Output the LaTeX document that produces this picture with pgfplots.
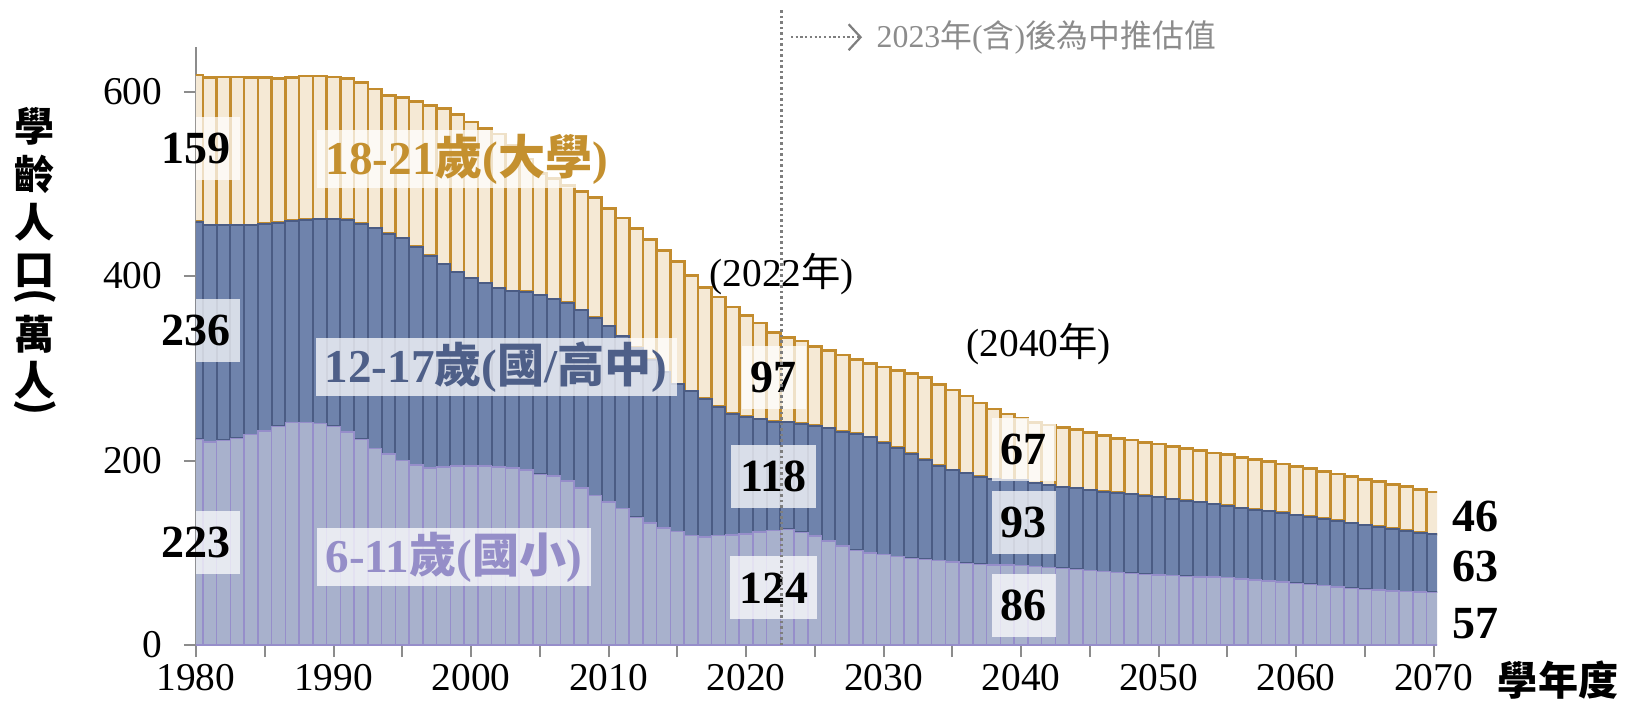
\documentclass[border=0pt]{standalone}
\usepackage{fontspec}
\setmainfont{Liberation Serif}
\newfontfamily\cjk{Noto Sans CJK TC}
\usepackage{pgfplots}
\pgfplotsset{compat=1.18}
\usepackage{pgfplotstable}
\usetikzlibrary{arrows.meta}
\definecolor{lavfill}{HTML}{A8B1CC}
\definecolor{lavline}{HTML}{968ECA}
\definecolor{bluefill}{HTML}{6F83AC}
\definecolor{blueline}{HTML}{4B5C84}
\definecolor{tanfill}{HTML}{F5E9D5}
\definecolor{tanline}{HTML}{C38C2E}
\definecolor{axgray}{HTML}{8C8C8C}
\definecolor{dotgray}{HTML}{7E7E7E}
\definecolor{lavtext}{HTML}{958EC8}
\definecolor{bluetext}{HTML}{4E5F88}
\definecolor{tantext}{HTML}{C4902F}
\newcommand\lab{\fontsize{13.1pt}{15pt}\selectfont\bfseries}
\newcommand\slab{\fontsize{13.4pt}{15pt}\selectfont\bfseries}
\newcommand\tlab{\fontsize{11.2pt}{13pt}\selectfont}
\newcommand\ylabf{\cjk\bfseries\fontsize{11.4pt}{13pt}\selectfont}

\pgfplotstableread{
year a b c
1980 223 236 159
1981 220 235 160
1982 222 233 161
1983 224 231 161
1984 228 227 160
1985 232 225 158
1986 237 221 156
1987 241 219 155
1988 241 220 156
1989 240 222 155
1990 237 225 154
1991 231 230 153
1992 223 234 153
1993 213 239 151
1994 207 239 150
1995 200 241 153
1996 195 237 157
1997 192 230 163
1998 193 220 169
1999 194 210 171
2000 194 204 169
2001 194 198 168
2002 193 194 167
2003 192 192 158
2004 190 193 144
2005 185 194 132
2006 183 192 131
2007 178 193 127
2008 170 193 129
2009 162 193 130
2010 155 191 127
2011 148 187 128
2012 138.5 184 129
2013 132.5 177 130
2014 127 169 132
2015 123 160 132.5
2016 118.5 157 125
2017 117 150 121
2018 118.5 140 119
2019 119.5 131.5 115.5
2020 120.5 127 110
2021 122.3 122.4 104.3
2022 124 118 97
2023 125.5 116 92
2024 122 118 89.5
2025 118 120 86
2026 113 122 84.5
2027 107.5 124 83
2028 102.5 126.5 80.5
2029 100 125 80
2030 98 121.5 82
2031 95.8 118 83.6
2032 94 113.4 87
2033 92.9 108 89.3
2034 91.4 103 88.4
2035 89.8 99.9 86.7
2036 88.5 97.5 84
2037 87.5 95 80
2038 87 93 76
2039 86.5 92 72
2040 86 93 67
2041 85 90.3 65.7
2042 84 89.4 65.1
2043 83 87.9 64.7
2044 82 87.8 64
2045 80.6 87.4 62.5
2046 79.5 86.7 60.7
2047 78.4 86.7 58.9
2048 77.7 86 58.5
2049 76.6 85.3 57.8
2050 75.9 84.2 57.8
2051 75.2 83.1 57.0
2052 74.5 81.9 56.4
2053 73.7 81 55.9
2054 73.5 79.3 55.5
2055 73 78.2 55.1
2056 71.5 77.2 54.7
2057 70.5 76.4 54.2
2058 69.4 75.7 53.6
2059 68.3 75.0 53.0
2060 66.8 74.2 52.5
2061 65.8 73.4 52.0
2062 64.3 72.6 51.4
2063 62.9 71.8 50.8
2064 61.4 70.9 50.2
2065 60.3 69.9 49.6
2066 59.5 68.7 49.0
2067 58.6 67.4 48.3
2068 58 65.9 47.6
2069 57.5 64.4 46.8
2070 57 63 46
}\data

\begin{document}
\begin{tikzpicture}
\useasboundingbox (-19.6mm,-5.6mm) rectangle (143.3mm,64.5mm);
\begin{axis}[
  at={(0,0)}, anchor=south west,
  scale only axis, width=124.1mm, height=59.8mm,
  xmin=1980, xmax=2070.25, ymin=0, ymax=648.4,
  ybar stacked, bar width=1,
  clip mode=individual,
  axis x line*=bottom, axis y line*=left,
  axis line style={axgray, line width=0.2mm},
  xtick={1980,1990,...,2070}, minor xtick={1985,1995,...,2065},
  ytick={0,200,400,600},
  tick align=outside, major tick length=1.2mm, minor tick length=1.2mm,
  every tick/.style={axgray, line width=0.2mm},
  every minor tick/.style={axgray, line width=0.2mm},
  /pgf/number format/assume math mode=true,
  xticklabel style={anchor=center, yshift=-2.1mm, inner sep=0pt, font=\tlab, /pgf/number format/1000 sep={}},
  yticklabel style={anchor=east, xshift=-2.1mm, inner sep=0pt, font=\tlab},
]
\addplot[fill=lavfill, draw=lavline, line width=0.15mm] table[x=year, y=a]{\data};
\addplot[fill=bluefill, draw=blueline, line width=0.2mm] table[x=year, y=b]{\data};
\addplot[fill=tanfill, draw=tanline, line width=0.27mm] table[x=year, y=c]{\data};

\coordinate (b1a) at (axis cs:1980,504.5); \coordinate (b1b) at (axis cs:1983.2,572.5);
\coordinate (b2a) at (axis cs:1980,307);   \coordinate (b2b) at (axis cs:1983.2,375);
\coordinate (b3a) at (axis cs:1980,77.5);  \coordinate (b3b) at (axis cs:1983.2,145.5);
\coordinate (t1) at (axis cs:1980,538.5);
\coordinate (t2) at (axis cs:1980,341);
\coordinate (t3) at (axis cs:1980,111.5);
\coordinate (d1) at (axis cs:2022,290.5);
\coordinate (d2) at (axis cs:2022,183);
\coordinate (d3) at (axis cs:2022,62);
\coordinate (e1) at (axis cs:2040.2,212.5);
\coordinate (e2) at (axis cs:2040.2,132.5);
\coordinate (e3) at (axis cs:2040.2,43);
\coordinate (s1) at (axis cs:1988.73,527);
\coordinate (s2) at (axis cs:1988.66,301);
\coordinate (s3) at (axis cs:1988.73,95);
\coordinate (r1) at (axis cs:2071.35,139.4);
\coordinate (r2) at (axis cs:2071.35,85.3);
\coordinate (r3) at (axis cs:2071.35,23.4);
\coordinate (v0) at (axis cs:2022.6,0);
\coordinate (v1) at (axis cs:2022.6,689);
\coordinate (y22) at (axis cs:2022.6,402);
\coordinate (y40) at (axis cs:2041.3,326);
\coordinate (a0) at (axis cs:2023.27,659);
\coordinate (a1) at (axis cs:2028.44,659);
\coordinate (at) at (axis cs:2029.45,659);
\coordinate (l1) at (axis cs:1968.29,562.6);
\coordinate (l2) at (axis cs:1968.29,510.6);
\coordinate (l3) at (axis cs:1968.29,458.5);
\coordinate (l4) at (axis cs:1968.29,406);
\coordinate (l5) at (axis cs:1968.29,378);
\coordinate (l6) at (axis cs:1968.29,337);
\coordinate (l7) at (axis cs:1968.29,287);
\coordinate (l8) at (axis cs:1968.29,257);
\coordinate (xl) at (axis cs:2079.05,-37.9);
\end{axis}

\fill[white, opacity=0.72] (b1a) rectangle (b1b);
\fill[white, opacity=0.72] (b2a) rectangle (b2b);
\fill[white, opacity=0.72] (b3a) rectangle (b3b);
\node[font=\lab] at (t1) {159};
\node[font=\lab] at (t2) {236};
\node[font=\lab] at (t3) {223};

\tikzset{dbox/.style={fill=white, fill opacity=0.74, text opacity=1, inner xsep=0.9mm, inner ysep=0pt, minimum height=6.3mm, font=\lab}}
\tikzset{sbox/.style={fill=white, fill opacity=0.74, text opacity=1, inner xsep=0.9mm, inner ysep=0pt, minimum height=5.8mm, font=\slab, anchor=west}}

\node[dbox] at (d1) {97};
\node[dbox] at (d2) {118};
\node[dbox] at (d3) {124};
\node[dbox] at (e1) {67};
\node[dbox] at (e2) {93};
\node[dbox] at (e3) {86};

\node[sbox, text=tantext] at (s1) {18-21{\cjk 歲}({\cjk 大學})};
\node[sbox, text=bluetext] at (s2) {12-17{\cjk 歲}({\cjk 國}/{\cjk 高中})};
\node[sbox, text=lavtext] at (s3) {6-11{\cjk 歲}({\cjk 國小})};

\node[font=\lab, anchor=west, inner sep=0pt] at (r1) {46};
\node[font=\lab, anchor=west, inner sep=0pt] at (r2) {63};
\node[font=\lab, anchor=west, inner sep=0pt] at (r3) {57};

\node[font=\tlab, inner sep=0pt] at (y22) {(2022{\cjk 年})};
\node[font=\tlab, inner sep=0pt] at (y40) {(2040{\cjk 年})};

\draw[dotgray, line width=0.3mm, dash pattern=on 0.25mm off 0.3mm] (v0) -- (v1);

\draw[dotgray, line width=0.25mm, dash pattern=on 0.22mm off 0.25mm, -{Straight Barb[length=1.2mm, width=2.6mm, line width=0.22mm]}] (a0) -- (a1);
\node[anchor=west, inner sep=0pt, text=axgray, font=\fontsize{9.05pt}{11pt}\selectfont] at (at) {2023{\cjk 年}({\cjk 含}){\cjk 後為中推估值}};

\node[font=\ylabf, inner sep=0pt] at (l1) {學};
\node[font=\ylabf, inner sep=0pt] at (l2) {齡};
\node[font=\ylabf, inner sep=0pt] at (l3) {人};
\node[font=\ylabf, inner sep=0pt] at (l4) {口};
\node[font=\ylabf, inner sep=0pt] at (l5) {\rotatebox{-90}{(}};
\node[font=\ylabf, inner sep=0pt] at (l6) {萬};
\node[font=\ylabf, inner sep=0pt] at (l7) {人};
\node[font=\ylabf, inner sep=0pt] at (l8) {\rotatebox{-90}{)}};
\node[font=\ylabf, inner sep=0pt] at (xl) {學年度};
\end{tikzpicture}
\end{document}
